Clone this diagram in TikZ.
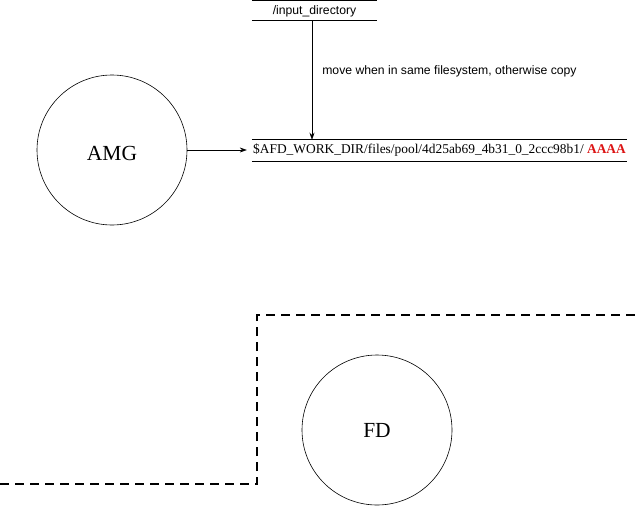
\documentclass[tikz,border=0pt]{standalone}
\usepackage{fontspec}
\setmainfont{Liberation Serif}
\newfontfamily\sansf{Liberation Sans}
\usetikzlibrary{arrows.meta}
\definecolor{aaared}{RGB}{220,20,20}
\begin{document}
\begin{tikzpicture}[x=1pt,y=-1pt,
  proc/.style={circle,draw,line width=0.6pt,minimum size=150pt,inner sep=0pt,font=\fontsize{21.5}{24}\selectfont},
  dirnode/.style={inner sep=0pt,font=\sansf\fontsize{12.2}{14}\selectfont},
  poolnode/.style={inner sep=0pt,font=\fontsize{13.4}{15}\selectfont},
  conn/.style={line width=0.6pt,-{Stealth[length=7pt,width=5pt]}},
  rule/.style={line width=0.6pt},
  fsbound/.style={line width=1.8pt,dash pattern=on 9pt off 6pt}]
\useasboundingbox (0,0) rectangle (639,506);
% processes
\node[proc,text height=20pt,text depth=0pt] (amg) at (112,150) {AMG};
\node[proc] (fd) at (377,430) {FD};
% directories
\node[dirnode,minimum width=125pt,minimum height=19.5pt,text height=9pt,text depth=1pt] (input) at (314.5,10.2) {/input\_directory};
\draw[rule] (input.north west) -- (input.north east);
\draw[rule] (input.south west) -- (input.south east);
\node[poolnode,minimum width=375pt,minimum height=20.7pt,text height=9pt,text depth=3.6pt] (pool) at (439.5,150.3)
  {\$AFD\_WORK\_DIR/files/pool/4d25ab69\_4b31\_0\_2ccc98b1/ \textcolor{aaared}{\textbf{AAAA}}};
\draw[rule] (pool.north west) -- (pool.north east);
\draw[rule] (pool.south west) -- (pool.south east);
% connectors
\coordinate (mvtop) at ([xshift=-2.5pt]input.south);
\draw[conn] (mvtop) -- (mvtop |- pool.north)
  node[pos=0.43,anchor=west,xshift=10pt,dirnode] (mvlabel) {move when in same filesystem, otherwise copy};
\draw[conn,shorten >=5pt] (amg.east) -- (amg.east -| pool.west);
% filesystem boundary
\coordinate (b1) at (0,484);
\coordinate (b2) at (257,484);
\coordinate (b3) at (257,315);
\coordinate (b4) at (639,315);
\draw[fsbound] (b1) -- (b2) -- (b3) -- (b4);
\end{tikzpicture}
\end{document}
